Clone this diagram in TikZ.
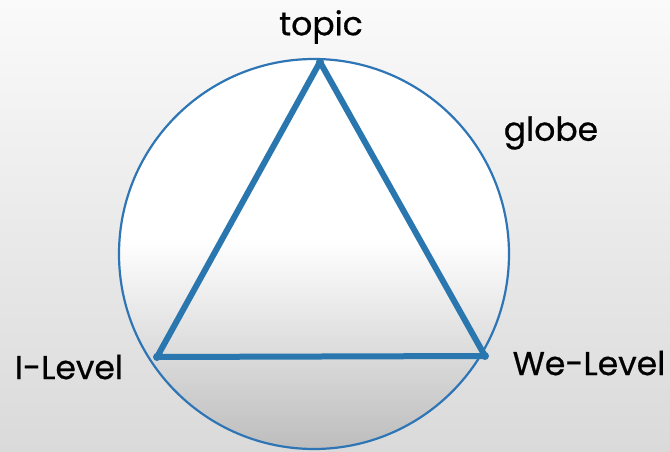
\documentclass[tikz,border=0pt]{standalone}
\usepackage{fontspec}
\setmainfont{Poppins}[FakeBold=0.6]
\definecolor{ringblue}{HTML}{2E75B6}
\definecolor{triblue}{HTML}{2A77B0}
\definecolor{bgtop}{HTML}{FAFAFA}
\definecolor{bgbot}{HTML}{DADADA}
\definecolor{globebot}{HTML}{BDBDBD}
\pgfdeclareverticalshading{globeshade}{100bp}{color(0bp)=(globebot); color(25bp)=(globebot); color(52bp)=(white); color(75bp)=(white); color(100bp)=(white)}
\pgfdeclareverticalshading{backshade}{100bp}{color(0bp)=(bgbot); color(25bp)=(bgbot); color(75bp)=(bgtop); color(100bp)=(bgtop)}
\tikzset{
  lbl/.style={font=\fontsize{33}{39}\selectfont, text=black, inner sep=0pt},
  ring/.style={draw=ringblue, line width=2.2pt},
  tri/.style={draw=triblue, line width=6pt, line join=round},
  vdot/.style={circle, fill=triblue, inner sep=0pt, minimum size=8pt}
}
\begin{document}
\begin{tikzpicture}[x=1pt,y=1pt]
\useasboundingbox (0,0) rectangle (670,451);
\shade[shading=backshade] (0,0) rectangle (670,451);
% globe
\coordinate (C) at (314,197);
\shade[shading=globeshade] (C) circle[radius=195];
\draw[ring] (C) circle[radius=195];
% triangle
\coordinate (T) at (320,389);
\coordinate (L) at (157,94);
\coordinate (R) at (485,95);
\draw[tri] (T) -- (L) -- (R) -- cycle;
\node[vdot] (dT) at (T) {};
\node[vdot] (dL) at (L) {};
\node[vdot] (dR) at (R) {};
% labels
\node[lbl] (topic) at (321,424) {topic};
\node[lbl] (globe) at (551,318) {globe};
\node[lbl] (ilevel) at (69,84) {I-Level};
\node[lbl] (welevel) at (589,88) {We-Level};
\end{tikzpicture}
\end{document}
